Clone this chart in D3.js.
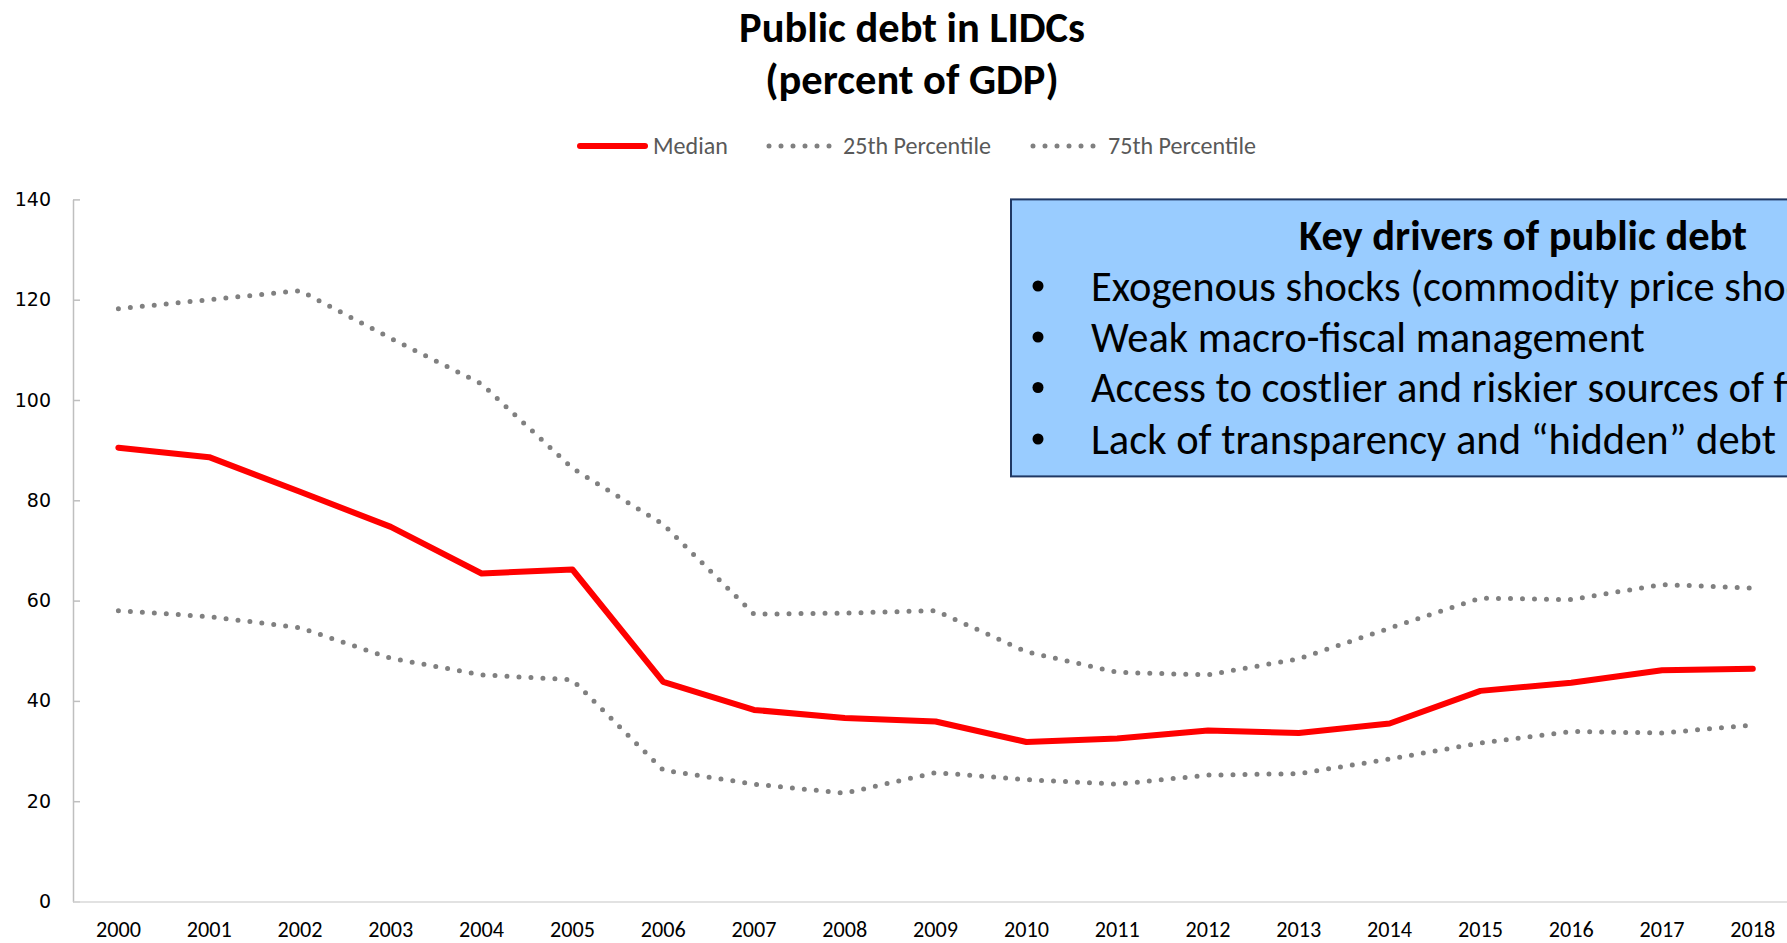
<!DOCTYPE html>
<html>
<head>
<meta charset="utf-8">
<script src="https://cdn.jsdelivr.net/npm/d3@7"></script>
<style>
  html, body { margin: 0; padding: 0; background: #fff; overflow: hidden; }
  svg { display: block; }
</style>
</head>
<body>
<svg id="chart" width="1787" height="943"></svg>
<script>
// ---------- data ----------
const years = ["2000","2001","2002","2003","2004","2005","2006","2007","2008","2009",
               "2010","2011","2012","2013","2014","2015","2016","2017","2018"];
const median = [90.5, 88.6, 81.7, 74.7, 65.4, 66.2, 43.8, 38.2, 36.6, 35.9,
                31.8, 32.5, 34.1, 33.6, 35.5, 42.0, 43.6, 46.1, 46.4];
const p25 = [58.0, 56.8, 54.6, 48.5, 45.2, 44.2, 26.2, 23.4, 21.6, 25.7,
             24.3, 23.4, 25.2, 25.5, 28.4, 31.6, 33.9, 33.6, 35.2];
const p75 = [118.2, 120.0, 121.8, 112.3, 103.2, 86.4, 75.2, 57.3, 57.5, 58.0,
             49.8, 45.7, 45.2, 48.4, 54.5, 60.5, 60.2, 63.2, 62.5];
const yTicks = [0, 20, 40, 60, 80, 100, 120, 140];
const titleLines = ["Public debt in LIDCs", "(percent of GDP)"];
const legendLabels = ["Median", "25th Percentile", "75th Percentile"];
const boxTitle = "Key drivers of public debt";
const boxBullets = [
  "Exogenous shocks (commodity price shocks, natural disasters)",
  "Weak macro-fiscal management",
  "Access to costlier and riskier sources of financing",
  "Lack of transparency and \u201Chidden\u201D debt"
];

// ---------- setup ----------
const svg = d3.select("#chart");
const sansFont = "Carlito, Calibri, Lato, 'Open Sans', sans-serif";
const axisFont = "'DejaVu Sans', Verdana, sans-serif";

function fit(sel, w) {
  const cur = sel.node().getComputedTextLength();
  const fs = parseFloat(sel.attr("font-size"));
  const nfs = fs * w / cur;
  sel.attr("font-size", nfs);
  return nfs;
}

const x = d3.scaleBand().domain(years).range([73, 73 + 19 * 90.8]);
const cx = d => x(d) + x.bandwidth() / 2;
const y = d3.scaleLinear().domain([0, 140]).range([901.5, 199.4]);

// ---------- title ----------
const t1 = svg.append("text").attr("x", 912).attr("y", 42)
  .attr("text-anchor", "middle").attr("font-family", sansFont)
  .attr("font-weight", "bold").attr("font-size", 36).attr("fill", "#000")
  .text(titleLines[0]);
const tfs = fit(t1, 346);
svg.append("text").attr("x", 912).attr("y", 94)
  .attr("text-anchor", "middle").attr("font-family", sansFont)
  .attr("font-weight", "bold").attr("font-size", tfs).attr("fill", "#000")
  .text(titleLines[1]);

// ---------- axes ----------
const yAxis = svg.append("g").attr("transform", "translate(73,0)")
  .call(d3.axisLeft(y).tickValues(yTicks).tickSizeInner(-7).tickSizeOuter(0).tickPadding(22));
yAxis.select(".domain").attr("stroke", "#BFBFBF").attr("stroke-width", 1.5);
yAxis.selectAll(".tick line").attr("stroke", "#BFBFBF").attr("stroke-width", 1.5);
yAxis.selectAll(".tick text").attr("font-family", axisFont).attr("font-size", 19).attr("fill", "#000");

const xAxis = svg.append("g").attr("transform", "translate(0,901.5)")
  .call(d3.axisBottom(x).tickSize(0).tickPadding(20));
xAxis.select(".domain").attr("stroke", "#D9D9D9").attr("stroke-width", 1.5);
xAxis.selectAll(".tick text").attr("font-family", sansFont).attr("font-size", 20).attr("fill", "#000");
const xfs = fit(xAxis.selectAll(".tick text").filter((d, i) => i === 18), 45);
xAxis.selectAll(".tick text").attr("font-size", xfs);

// ---------- lines ----------
const line = d3.line().x((d, i) => cx(years[i])).y(d => y(d));

[p75, p25].forEach(s => {
  svg.append("path").datum(s).attr("d", line)
    .attr("fill", "none").attr("stroke", "#808080").attr("stroke-width", 5)
    .attr("stroke-linecap", "round").attr("stroke-dasharray", "0,12");
});
svg.append("path").datum(median).attr("d", line)
  .attr("fill", "none").attr("stroke", "#FF0000").attr("stroke-width", 6)
  .attr("stroke-linejoin", "round").attr("stroke-linecap", "round");

// ---------- legend ----------
const legY = 146;
const lg = svg.append("g");
lg.append("line").attr("x1", 580).attr("x2", 645).attr("y1", legY).attr("y2", legY)
  .attr("stroke", "#FF0000").attr("stroke-width", 6).attr("stroke-linecap", "round");
[[769, 830], [1033, 1094]].forEach(([a, b]) => {
  lg.append("line").attr("x1", a).attr("x2", b + 1).attr("y1", legY).attr("y2", legY)
    .attr("stroke", "#808080").attr("stroke-width", 5).attr("stroke-linecap", "round")
    .attr("stroke-dasharray", "0,12");
});
const legX = [653, 843, 1108];
const legTexts = legendLabels.map((l, i) => lg.append("text")
  .attr("x", legX[i]).attr("y", legY).attr("dy", "0.35em")
  .attr("font-family", sansFont).attr("font-size", 20).attr("fill", "#595959").text(l));
const lfs = fit(legTexts[1], 148);
legTexts.forEach(t => t.attr("font-size", lfs));

// ---------- text box ----------
const box = svg.append("g");
box.append("rect").attr("x", 1011).attr("y", y(140)).attr("width", 900)
  .attr("height", 476.4 - y(140))
  .attr("fill", "#99CCFF").attr("stroke", "#1F3864").attr("stroke-width", 2);
const bt = box.append("text").attr("x", 1523).attr("y", 235).attr("dy", "0.35em")
  .attr("text-anchor", "middle").attr("font-family", sansFont).attr("font-weight", "bold")
  .attr("font-size", 38).attr("fill", "#000").text(boxTitle);
fit(bt, 448);
const bulletY = [286, 337, 387.5, 439];
const bTexts = boxBullets.map((b, i) => {
  box.append("circle").attr("cx", 1038).attr("cy", bulletY[i]).attr("r", 5.5).attr("fill", "#000");
  return box.append("text").attr("x", 1091).attr("y", bulletY[i]).attr("dy", "0.35em")
    .attr("font-family", sansFont).attr("font-size", 38).attr("fill", "#000").text(b);
});
const bfs = fit(bTexts[1], 554);
bTexts.forEach(t => t.attr("font-size", bfs));
</script>
</body>
</html>
